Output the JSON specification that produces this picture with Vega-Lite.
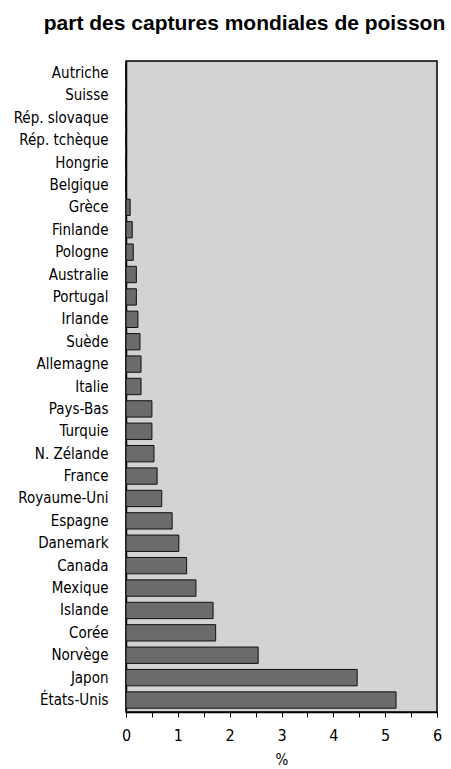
{
  "$schema": "https://vega.github.io/schema/vega-lite/v6.json",
  "autosize": "none",
  "width": 311,
  "height": 651,
  "padding": {"left": 126, "top": 61, "right": 14, "bottom": 57},
  "background": "white",
  "title": {
    "text": "part des captures mondiales de poisson",
    "font": "Liberation Sans",
    "fontSize": 21,
    "fontWeight": "bold",
    "color": "black",
    "anchor": "middle",
    "dx": -37,
    "offset": 27
  },
  "data": {
    "values": [
      {"pays": "Autriche", "part": 0},
      {"pays": "Suisse", "part": 0},
      {"pays": "Rép. slovaque", "part": 0},
      {"pays": "Rép. tchèque", "part": 0},
      {"pays": "Hongrie", "part": 0},
      {"pays": "Belgique", "part": 0},
      {"pays": "Grèce", "part": 0.08},
      {"pays": "Finlande", "part": 0.12},
      {"pays": "Pologne", "part": 0.14},
      {"pays": "Australie", "part": 0.2},
      {"pays": "Portugal", "part": 0.2},
      {"pays": "Irlande", "part": 0.23},
      {"pays": "Suède", "part": 0.27},
      {"pays": "Allemagne", "part": 0.29},
      {"pays": "Italie", "part": 0.29},
      {"pays": "Pays-Bas", "part": 0.5},
      {"pays": "Turquie", "part": 0.5},
      {"pays": "N. Zélande", "part": 0.54},
      {"pays": "France", "part": 0.6},
      {"pays": "Royaume-Uni", "part": 0.69},
      {"pays": "Espagne", "part": 0.89},
      {"pays": "Danemark", "part": 1.02},
      {"pays": "Canada", "part": 1.17},
      {"pays": "Mexique", "part": 1.35},
      {"pays": "Islande", "part": 1.68},
      {"pays": "Corée", "part": 1.73},
      {"pays": "Norvège", "part": 2.55},
      {"pays": "Japon", "part": 4.46},
      {"pays": "États-Unis", "part": 5.21}
    ]
  },
  "mark": {"type": "bar", "color": "#6b6b6b", "stroke": "#111111", "strokeWidth": 1},
  "encoding": {
    "y": {
      "field": "pays",
      "type": "nominal",
      "sort": null,
      "scale": {"paddingInner": 0.27, "paddingOuter": 0.17},
      "axis": {
        "title": null,
        "ticks": false,
        "labelPadding": 18,
        "labelFont": "DejaVu Sans Condensed, Liberation Sans",
        "labelFontSize": 15,
        "labelColor": "black",
        "domainColor": "black",
        "domainWidth": 1.5
      }
    },
    "x": {
      "field": "part",
      "type": "quantitative",
      "scale": {"domain": [0, 6], "nice": false},
      "axis": {
        "title": "%",
        "values": [0, 0.5, 1, 1.5, 2, 2.5, 3, 3.5, 4, 4.5, 5, 5.5, 6],
        "labelExpr": "datum.value % 1 === 0 ? format(datum.value, 'd') : ''",
        "grid": false,
        "tickSize": 5,
        "tickColor": "black",
        "domainColor": "black",
        "domainWidth": 1.5,
        "labelPadding": 10,
        "labelFont": "DejaVu Sans Condensed, Liberation Sans",
        "labelFontSize": 16,
        "labelColor": "black",
        "labelFlush": false,
        "titleFont": "DejaVu Sans Condensed, Liberation Sans",
        "titleFontSize": 15,
        "titleFontWeight": "normal",
        "titleColor": "black",
        "titlePadding": 9
      }
    }
  },
  "config": {
    "view": {"fill": "#d3d3d3", "stroke": "black", "strokeWidth": 1.5}
  }
}
